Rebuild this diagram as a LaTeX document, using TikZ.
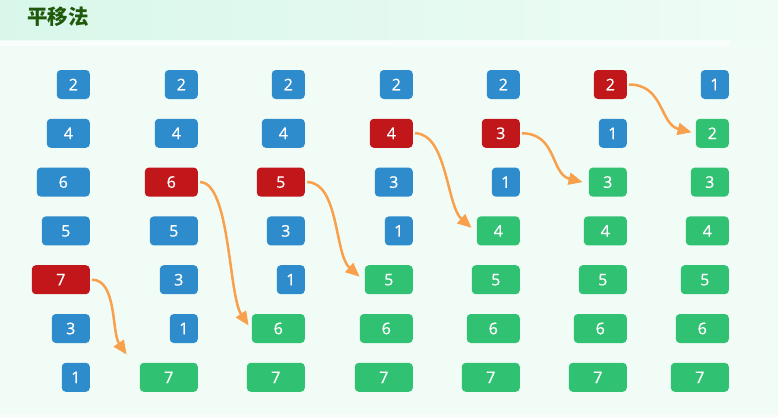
\documentclass[tikz,border=0pt]{standalone}
\usepackage{fontspec}
\setmainfont{Open Sans}
\newfontfamily\digfont[FakeBold=0.8]{Open Sans}
\newfontfamily\cjk{Noto Sans CJK SC}
\usetikzlibrary{arrows.meta,calc}
\definecolor{boxb}{HTML}{2E8BCC}
\definecolor{boxr}{HTML}{C1171A}
\definecolor{boxg}{HTML}{31C172}
\definecolor{arrcol}{HTML}{F8A04C}
\definecolor{bodybg}{HTML}{F1FCF6}
\definecolor{headl}{HTML}{D8F7EA}
\definecolor{headr}{HTML}{EFFCF5}
\definecolor{titlecol}{HTML}{1F5A0C}
\begin{document}
\begin{tikzpicture}[x=1pt,y=-1pt,
  box/.style={rounded corners=4pt, minimum height=29pt, inner sep=0pt,
    text=white, font=\digfont\fontsize{16}{16}\selectfont, anchor=east},
  arr/.style={draw=arrcol, line width=2.5pt,
    -{Triangle[length=14pt,width=12pt]}}]
\useasboundingbox (0,0) rectangle (778,418);
\fill[bodybg] (0,0) rectangle (778,418);
\shade[left color=headl, right color=headr] (0,0) rectangle (778,40);
\fill[white, opacity=0.6] (0,40) rectangle (730,46);
\fill[white, opacity=0.5] (0,414) rectangle (778,418);
\node[anchor=west, text=titlecol, font=\cjk\bfseries\fontsize{20.5}{20.5}\selectfont, inner sep=0pt] (title) at (27,17) {平移法};
\foreach \col/\R/\lst in {
  1/90/{2/b,4/b,6/b,5/b,7/r,3/b,1/b},
  2/198/{2/b,4/b,6/r,5/b,3/b,1/b,7/g},
  3/305/{2/b,4/b,5/r,3/b,1/b,6/g,7/g},
  4/413/{2/b,4/r,3/b,1/b,5/g,6/g,7/g},
  5/520/{2/b,3/r,1/b,4/g,5/g,6/g,7/g},
  6/627/{2/r,1/b,3/g,4/g,5/g,6/g,7/g},
  7/729/{1/b,2/g,3/g,4/g,5/g,6/g,7/g}} {
  \foreach \v/\c [count=\row] in \lst {
    \node[box, fill=box\c, minimum width={23pt+5pt*\v}] (c\col r\row)
      at (\R, {84.5+48.8*(\row-1)}) {\v};
  }
}
\draw[arr] ($(c1r5.east)+(2,0)$) .. controls +(25,0) and +(-15,-22) .. ($(c2r7.north west)+(-13,-8)$);
\draw[arr] ($(c2r3.east)+(2,0)$) .. controls +(30,0) and +(-20,-30) .. ($(c3r6.west)+(-3,-3)$);
\draw[arr] ($(c3r3.east)+(2,0)$) .. controls +(32,0) and +(-25,-22) .. ($(c4r5.west)+(-5,-3)$);
\draw[arr] ($(c4r2.east)+(2,0)$) .. controls +(32,0) and +(-25,-22) .. ($(c5r4.west)+(-5,-3)$);
\draw[arr] ($(c5r2.east)+(2,0)$) .. controls +(35,0) and +(-32,-8) .. ($(c6r3.west)+(-6,0)$);
\draw[arr] ($(c6r1.east)+(2,0)$) .. controls +(35,0) and +(-32,-8) .. ($(c7r2.west)+(-4,-1)$);
\end{tikzpicture}
\end{document}
